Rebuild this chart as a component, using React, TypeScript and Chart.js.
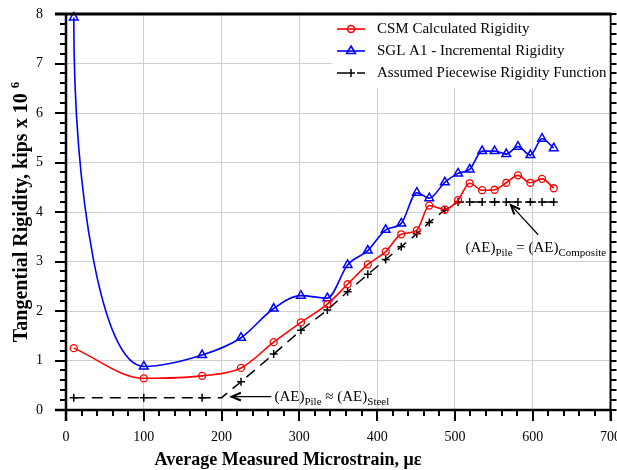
import React, { useEffect, useRef } from 'react';
import { Chart, registerables } from 'chart.js';

Chart.register(...registerables);

// ---------- data ----------
const seriesLabels = [
  'CSM Calculated Rigidity',
  'SGL A1 - Incremental Rigidity',
  'Assumed Piecewise Rigidity Function',
];

const strain = [10, 100, 175, 225, 267, 302, 336, 362, 388, 411, 431, 451, 467, 487, 504, 519, 535, 551, 566, 581, 597, 612, 627];

const csmRigidity = [1.25, 0.64, 0.69, 0.85, 1.37, 1.77, 2.14, 2.54, 2.94, 3.2, 3.55, 3.63, 4.13, 4.05, 4.24, 4.58, 4.44, 4.45, 4.59, 4.74, 4.59, 4.67, 4.48];

const sglRigidity = [7.93, 0.88, 1.11, 1.46, 2.05, 2.31, 2.26, 2.93, 3.22, 3.64, 3.77, 4.39, 4.28, 4.6, 4.78, 4.86, 5.23, 5.23, 5.17, 5.32, 5.15, 5.48, 5.29];

const assumedStrain = [10, 100, 175, 200, 225, 267, 302, 336, 362, 388, 411, 431, 451, 467, 487, 504, 519, 535, 551, 566, 581, 597, 612, 627];
const assumedRigidity = [0.25, 0.25, 0.25, 0.25, 0.57, 1.13, 1.61, 2.02, 2.39, 2.74, 3.04, 3.3, 3.56, 3.79, 4.04, 4.2, 4.2, 4.2, 4.2, 4.2, 4.2, 4.2, 4.2, 4.2];

const xTickValues = [0, 100, 200, 300, 400, 500, 600, 700];
const yTickValues = [0, 1, 2, 3, 4, 5, 6, 7, 8];

const xTitle = 'Average Measured Microstrain, \u03bc\u03b5';
const yTitle = 'Tangential Rigidity, kips x 10';
const yTitleSup = '6';

// ---------- style ----------
const SERIF = '"Liberation Serif", "Times New Roman", serif';
const RED = '#ff0000';
const BLUE = '#0000ff';
const GRID = '#cfcfcf';

type Part = { t: string; sub?: boolean };

function drawRich(ctx: CanvasRenderingContext2D, x: number, y: number, parts: Part[]) {
  let cx = x;
  ctx.textAlign = 'left';
  ctx.textBaseline = 'alphabetic';
  ctx.fillStyle = '#000';
  for (const p of parts) {
    ctx.font = p.sub ? `11px ${SERIF}` : `15px ${SERIF}`;
    ctx.fillText(p.t, cx, p.sub ? y + 4 : y);
    cx += ctx.measureText(p.t).width;
  }
}

function drawArrow(ctx: CanvasRenderingContext2D, x1: number, y1: number, x2: number, y2: number) {
  ctx.save();
  ctx.strokeStyle = '#000';
  ctx.lineWidth = 1.2;
  ctx.beginPath();
  ctx.moveTo(x1, y1);
  ctx.lineTo(x2, y2);
  ctx.stroke();
  const ang = Math.atan2(y2 - y1, x2 - x1);
  const len = 10;
  const spread = 0.4;
  ctx.lineWidth = 2;
  ctx.beginPath();
  ctx.moveTo(x2 - len * Math.cos(ang - spread), y2 - len * Math.sin(ang - spread));
  ctx.lineTo(x2, y2);
  ctx.lineTo(x2 - len * Math.cos(ang + spread), y2 - len * Math.sin(ang + spread));
  ctx.stroke();
  ctx.restore();
}

const decorPlugin = {
  id: 'decor',
  beforeDatasetDraw(chart: any, args: any) {
    if (args.index !== 1) return;
    const meta = chart.getDatasetMeta(1);
    const line: any = meta.dataset;
    if (line && line.updateControlPoints) line.updateControlPoints(chart.chartArea, 'x');
    const pts: any[] = meta.data;
    if (pts.length < 2) return;
    const p0 = pts[0];
    const p1 = pts[1];
    p0.cp2x = p0.x;
    p0.cp2y = p0.y + 0.5 * (p1.y - p0.y);
    p1.cp1x = p1.x - 0.6 * (p1.x - p0.x);
    p1.cp1y = p1.y;
  },
  afterDatasetsDraw(chart: any) {
    const ctx: CanvasRenderingContext2D = chart.ctx;
    const { left, right, top, bottom } = chart.chartArea;
    const xs = chart.scales.x;
    const ys = chart.scales.y;
    ctx.save();
    ctx.strokeStyle = '#000';

    // ticks
    ctx.lineWidth = 2;
    ctx.beginPath();
    for (let i = 0; i <= 35; i++) {
      const px = Math.round(xs.getPixelForValue(i * 20));
      const major = i % 5 === 0;
      ctx.moveTo(px, bottom);
      ctx.lineTo(px, bottom + (major ? 11 : 6));
    }
    for (let i = 0; i <= 40; i++) {
      const py = Math.round(ys.getPixelForValue(i * 0.2));
      const major = i % 5 === 0;
      ctx.moveTo(left - (major ? 11 : 6), py);
      ctx.lineTo(left, py);
      ctx.moveTo(right, py);
      ctx.lineTo(right + 6, py);
    }
    ctx.stroke();

    // borders
    ctx.lineWidth = 2.5;
    ctx.beginPath();
    ctx.moveTo(left, top);
    ctx.lineTo(left, bottom + 11);
    ctx.moveTo(left - 11, bottom);
    ctx.lineTo(right, bottom);
    ctx.stroke();
    ctx.lineWidth = 3;
    ctx.beginPath();
    ctx.moveTo(left - 11, top);
    ctx.lineTo(right + 1, top);
    ctx.stroke();
    ctx.lineWidth = 2;
    ctx.beginPath();
    ctx.moveTo(right, top);
    ctx.lineTo(right, bottom + 11);
    ctx.stroke();

    // legend
    ctx.fillStyle = '#fff';
    ctx.fillRect(332, top + 2, right - 333, 72);
    const rows = [29, 51, 73];
    const sx0 = 337;
    const sx1 = 365;
    const mx = 351;
    seriesLabels.forEach((lab, i) => {
      const y = rows[i];
      ctx.save();
      if (i === 0) {
        ctx.strokeStyle = RED;
        ctx.lineWidth = 1.6;
        ctx.beginPath();
        ctx.moveTo(sx0, y);
        ctx.lineTo(sx1, y);
        ctx.stroke();
        ctx.beginPath();
        ctx.arc(mx, y, 3.5, 0, Math.PI * 2);
        ctx.stroke();
      } else if (i === 1) {
        ctx.strokeStyle = BLUE;
        ctx.lineWidth = 1.6;
        ctx.beginPath();
        ctx.moveTo(sx0, y);
        ctx.lineTo(sx1, y);
        ctx.stroke();
        const r = 5;
        ctx.beginPath();
        ctx.moveTo(mx, y - r);
        ctx.lineTo(mx + r * 0.866, y + r * 0.5);
        ctx.lineTo(mx - r * 0.866, y + r * 0.5);
        ctx.closePath();
        ctx.stroke();
      } else {
        ctx.strokeStyle = '#000';
        ctx.lineWidth = 1.5;
        ctx.beginPath();
        ctx.moveTo(sx0, y);
        ctx.lineTo(sx0 + 10, y);
        ctx.moveTo(sx1 - 8, y);
        ctx.lineTo(sx1, y);
        ctx.moveTo(mx - 4, y);
        ctx.lineTo(mx + 4, y);
        ctx.moveTo(mx, y - 4);
        ctx.lineTo(mx, y + 4);
        ctx.stroke();
      }
      ctx.restore();
      ctx.fillStyle = '#000';
      ctx.font = `15px ${SERIF}`;
      ctx.textAlign = 'left';
      ctx.textBaseline = 'middle';
      ctx.fillText(lab, 377, y);
    });

    // annotations
    const a1TipX = xs.getPixelForValue(213);
    const a1TailX = xs.getPixelForValue(264);
    const a1Y = ys.getPixelForValue(0.27);
    drawArrow(ctx, a1TailX, a1Y, a1TipX, a1Y);
    drawRich(ctx, xs.getPixelForValue(268), ys.getPixelForValue(0.18), [
      { t: '(AE)' }, { t: 'Pile', sub: true }, { t: ' \u2248 ' }, { t: '(AE)' }, { t: 'Steel', sub: true },
    ]);
    drawArrow(ctx, xs.getPixelForValue(607), ys.getPixelForValue(3.54), xs.getPixelForValue(572), ys.getPixelForValue(4.14));
    drawRich(ctx, xs.getPixelForValue(513.5), ys.getPixelForValue(3.19), [
      { t: '(AE)' }, { t: 'Pile', sub: true }, { t: ' = ' }, { t: '(AE)' }, { t: 'Composite', sub: true },
    ]);

    // axis titles
    ctx.fillStyle = '#000';
    ctx.font = `bold 18px ${SERIF}`;
    ctx.textAlign = 'center';
    ctx.textBaseline = 'alphabetic';
    ctx.fillText(xTitle, 288, 465);

    ctx.save();
    ctx.translate(27, (top + bottom) / 2);
    ctx.rotate(-Math.PI / 2);
    ctx.font = `bold 20px ${SERIF}`;
    const w1 = ctx.measureText(yTitle).width;
    ctx.font = `bold 13px ${SERIF}`;
    const w2 = ctx.measureText(yTitleSup).width;
    const total = w1 + 5 + w2;
    ctx.textAlign = 'left';
    ctx.font = `bold 20px ${SERIF}`;
    ctx.fillText(yTitle, -total / 2, 0);
    ctx.font = `bold 13px ${SERIF}`;
    ctx.fillText(yTitleSup, -total / 2 + w1 + 5, -8);
    ctx.restore();

    ctx.restore();
  },
};

export default function App() {
  const ref = useRef<HTMLCanvasElement | null>(null);

  useEffect(() => {
    if (!ref.current) return;
    const chart = new Chart(ref.current, {
      type: 'line',
      data: {
        datasets: [
          {
            label: seriesLabels[0],
            data: strain.map((x, i) => ({ x, y: csmRigidity[i] })),
            borderColor: RED,
            borderWidth: 1.6,
            pointStyle: 'circle',
            pointRadius: 3.5,
            pointBorderWidth: 1.3,
            pointBorderColor: RED,
            pointBackgroundColor: 'rgba(0,0,0,0)',
            cubicInterpolationMode: 'monotone',
            clip: false,
          } as any,
          {
            label: seriesLabels[1],
            data: strain.map((x, i) => ({ x, y: sglRigidity[i] })),
            borderColor: BLUE,
            borderWidth: 1.6,
            pointStyle: 'triangle',
            pointRadius: 5,
            pointBorderWidth: 1.5,
            pointBorderColor: BLUE,
            pointBackgroundColor: 'rgba(0,0,0,0)',
            cubicInterpolationMode: 'monotone',
            clip: false,
          } as any,
          {
            label: seriesLabels[2],
            data: assumedStrain.map((x, i) => ({ x, y: assumedRigidity[i] })),
            borderColor: '#000',
            borderWidth: 1.5,
            borderDash: [11, 7],
            pointStyle: 'cross',
            pointRadius: assumedStrain.map((x) => (strain.includes(x) ? 4 : 0)),
            pointBorderWidth: 1.5,
            pointBorderColor: '#000',
            tension: 0,
            clip: false,
          } as any,
        ],
      },
      options: {
        responsive: false,
        maintainAspectRatio: false,
        animation: false,
        devicePixelRatio: 1,
        layout: { padding: { top: 14, right: 5, left: 0, bottom: 0 } },
        plugins: { legend: { display: false }, tooltip: { enabled: false } },
        scales: {
          x: {
            type: 'linear',
            min: 0,
            max: 700,
            afterBuildTicks: (s: any) => {
              s.ticks = xTickValues.map((v) => ({ value: v }));
            },
            afterFit: (s: any) => {
              s.height = 60;
              s.paddingLeft = 0;
              s.paddingRight = 0;
            },
            ticks: {
              font: { family: SERIF, size: 14 },
              color: '#000',
              padding: 19,
              maxRotation: 0,
              autoSkip: false,
            },
            grid: { color: GRID, lineWidth: 1, drawTicks: false },
            border: { display: false },
          },
          y: {
            type: 'linear',
            min: 0,
            max: 8,
            afterBuildTicks: (s: any) => {
              s.ticks = yTickValues.map((v) => ({ value: v }));
            },
            afterFit: (s: any) => {
              s.width = 66;
              s.paddingTop = 0;
              s.paddingBottom = 0;
            },
            ticks: {
              font: { family: SERIF, size: 14 },
              color: '#000',
              padding: 23,
              autoSkip: false,
            },
            grid: { color: GRID, lineWidth: 1, drawTicks: false },
            border: { display: false },
          },
        },
      } as any,
      plugins: [decorPlugin as any],
    });
    return () => chart.destroy();
  }, []);

  return (
    <div style={{ position: 'fixed', left: 0, top: 0, width: 617, height: 470, background: '#fff' }}>
      <canvas ref={ref} width={617} height={470} style={{ display: 'block', width: 617, height: 470 }} />
    </div>
  );
}
